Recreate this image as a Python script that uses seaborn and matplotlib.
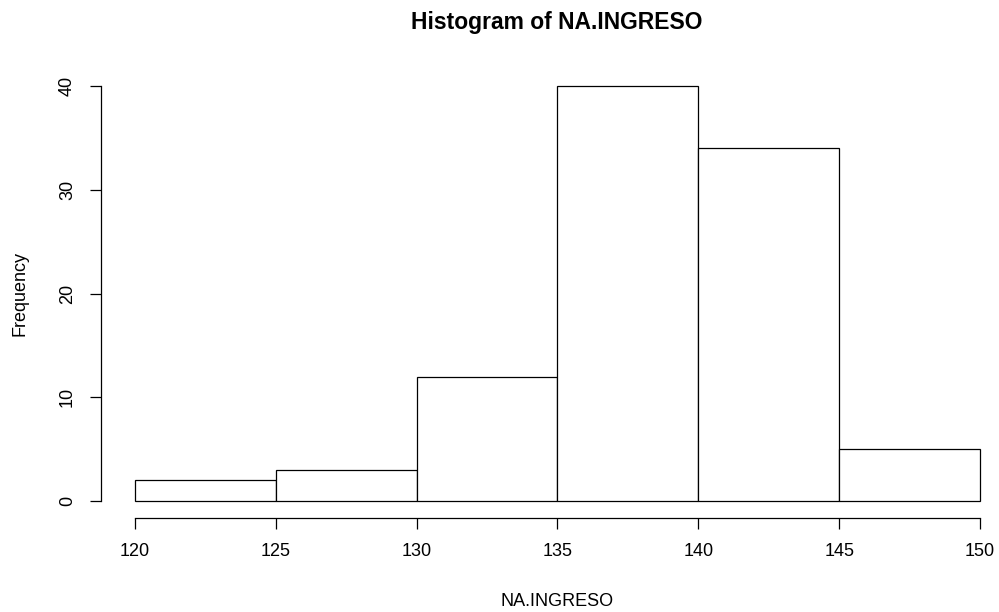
import numpy as np
import pandas as pd
import matplotlib
matplotlib.use("Agg")
import matplotlib.pyplot as plt
import seaborn as sns

# bins and counts
bin_edges = [120, 125, 130, 135, 140, 145, 150]
counts = [2, 3, 12, 40, 34, 5]
x_ticks = [120, 125, 130, 135, 140, 145, 150]
y_ticks = [0, 10, 20, 30, 40]

df = pd.DataFrame({
    "NA.INGRESO": [(a + b) / 2 for a, b in zip(bin_edges[:-1], bin_edges[1:])],
    "n": counts,
})

sns.set_style("white")
plt.rcParams["font.family"] = ["Liberation Sans", "DejaVu Sans"]
plt.rcParams["text.color"] = "black"
plt.rcParams["xtick.color"] = "black"
plt.rcParams["ytick.color"] = "black"

fig = plt.figure(figsize=(9.99, 6.12), dpi=100)
W, H = 999, 612
# axes in pixel coords (R-like plot region)
left, right = 101, 999
top, bottom = 69.4, 517.6
ax = fig.add_axes([left / W, 1 - bottom / H, (right - left) / W, (bottom - top) / H])

sns.histplot(data=df, x="NA.INGRESO", weights="n", bins=bin_edges,
             color="white", edgecolor="black", linewidth=0.9, alpha=1, ax=ax)

ppu = (980 - 135) / 30
ax.set_xlim(120 - (135 - left) / ppu, 150 + (right - 980) / ppu)
ax.set_ylim(-1.6, 41.6)

for s in ["top", "right"]:
    ax.spines[s].set_visible(False)
ax.spines["bottom"].set_bounds(120, 150)
ax.spines["left"].set_bounds(0, 40)
for s in ["bottom", "left"]:
    ax.spines[s].set_color("black")
    ax.spines[s].set_linewidth(0.9)

ax.set_xticks(x_ticks)
ax.set_yticks(y_ticks)
ax.set_yticklabels([str(t) for t in y_ticks], rotation=90, va="center")
ax.tick_params(axis="both", direction="out", length=8, width=0.9, color="black",
               labelcolor="black", labelsize=13, bottom=True, left=True)
ax.tick_params(axis="x", pad=10)
ax.tick_params(axis="y", pad=10)

ax.set_xlabel("")
ax.set_ylabel("")
fig.text(557 / W, 1 - 601 / H, "NA.INGRESO", ha="center", va="center", fontsize=13)
fig.text(20 / W, 1 - 293 / H, "Frequency", ha="center", va="center", rotation=90, fontsize=13)
fig.text(557 / W, 1 - 22 / H, "Histogram of NA.INGRESO", ha="center", va="center",
         fontsize=16.5, fontweight="bold")

fig.savefig("out.png", dpi=100)
